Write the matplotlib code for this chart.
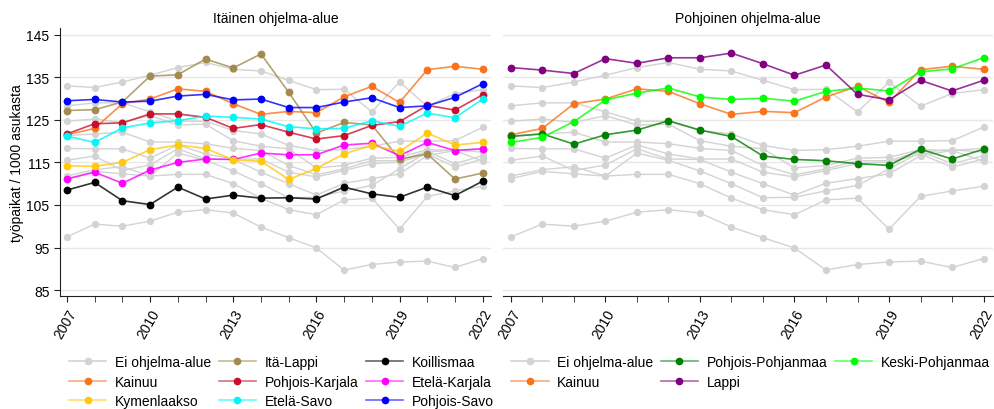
import matplotlib.pyplot as plt
from matplotlib.lines import Line2D
from matplotlib.colors import to_rgba

plt.rcParams['font.family'] = ['Liberation Sans', 'DejaVu Sans']

vuodet = [2007, 2008, 2009, 2010, 2011, 2012, 2013, 2014,
          2015, 2016, 2017, 2018, 2019, 2020, 2021, 2022]

# alueet, jotka eivät kuulu ohjelma-alueeseen (harmaat viivat)
ei_1 = [133.0, 132.6, 133.9, 135.5, 137.3, 138.5, 136.9, 136.5, 134.3, 132.1, 132.2, 126.9, 133.9, 128.2, 131.2, 132.1]
ei_2 = [128.3, 129.0, 129.0, 126.9, 124.7, 124.7, 122.5, 121.7, 119.0, 117.8, 118.0, 118.8, 120.0, 120.0, 120.1, 123.3]
ei_3 = [124.7, 125.2, 124.4, 126.0, 123.8, 124.0, 120.1, 118.8, 118.2, 113.7, 114.3, 116.0, 116.2, 118.0, 117.8, 118.3]
ei_4 = [121.3, 121.7, 122.1, 119.8, 119.8, 119.4, 118.3, 117.8, 114.3, 112.1, 113.5, 115.4, 115.4, 117.6, 114.7, 116.6]
ei_5 = [118.3, 118.2, 118.2, 116.0, 119.1, 117.0, 115.8, 115.8, 112.7, 111.6, 113.1, 114.7, 115.1, 117.0, 113.9, 115.8]
ei_6 = [115.5, 116.5, 113.1, 114.4, 118.2, 115.8, 115.7, 112.7, 110.0, 107.3, 110.1, 111.2, 112.3, 116.6, 117.8, 115.3]
ei_7 = [111.8, 113.3, 114.0, 111.8, 117.2, 115.5, 113.0, 110.0, 106.7, 106.8, 108.3, 109.6, 113.5, 117.4, 118.0, 117.4]
ei_8 = [111.2, 112.9, 112.3, 111.8, 112.2, 112.2, 110.0, 106.6, 103.9, 102.7, 106.2, 106.6, 99.3, 107.0, 108.3, 109.4]
ei_9 = [97.5, 100.5, 100.0, 101.2, 103.3, 103.9, 103.1, 99.8, 97.3, 94.9, 89.7, 91.0, 91.6, 91.8, 90.3, 92.4]

# itäinen ohjelma-alue
ita_lappi = [127.2, 127.4, 129.2, 135.3, 135.6, 139.3, 137.2, 140.5, 131.5, 121.9, 124.4, 123.8, 115.8, 117.0, 111.1, 112.5]
koillismaa = [108.5, 110.3, 106.0, 105.1, 109.2, 106.4, 107.3, 106.6, 106.7, 106.4, 109.2, 107.6, 106.8, 109.2, 107.2, 110.6]
kainuu = [121.5, 123.0, 128.8, 129.9, 132.3, 131.7, 128.8, 126.3, 127.0, 126.7, 130.4, 132.9, 129.1, 136.8, 137.6, 136.9]
pohjois_karjala = [121.7, 124.1, 124.3, 126.4, 126.4, 125.6, 123.0, 123.9, 122.1, 120.5, 121.3, 123.7, 124.6, 128.4, 127.3, 130.9]
etela_karjala = [111.1, 112.7, 110.1, 113.2, 115.0, 115.8, 115.7, 117.2, 116.8, 116.8, 119.1, 119.5, 116.6, 119.7, 117.8, 118.2]
kymenlaakso = [114.2, 114.1, 115.0, 118.0, 119.1, 118.3, 115.6, 115.3, 111.0, 113.6, 117.0, 119.0, 117.6, 121.9, 119.1, 119.7]
etela_savo = [121.2, 119.7, 123.1, 124.3, 124.8, 125.9, 125.6, 125.2, 123.4, 122.9, 123.0, 124.8, 123.5, 126.6, 125.5, 129.9]
pohjois_savo = [129.5, 129.8, 129.2, 129.4, 130.6, 131.0, 129.7, 129.9, 127.9, 127.9, 129.2, 130.2, 127.9, 128.3, 130.3, 133.5]

# pohjoinen ohjelma-alue
pohjois_pohjanmaa = [121.1, 121.7, 119.3, 121.5, 122.6, 124.8, 122.6, 121.1, 116.5, 115.7, 115.4, 114.7, 114.3, 118.1, 115.8, 118.1]
keski_pohjanmaa = [119.7, 120.9, 124.6, 129.7, 131.3, 132.5, 130.4, 129.8, 130.1, 129.4, 131.7, 132.5, 131.8, 136.3, 137.0, 139.6]
lappi = [137.3, 136.7, 135.9, 139.4, 138.3, 139.6, 139.6, 140.7, 138.2, 135.5, 137.9, 131.0, 129.7, 134.3, 131.8, 134.3]

harmaat = [ei_1, ei_2, ei_3, ei_4, ei_5, ei_6, ei_7, ei_8, ei_9]
HARMAA = '#D3D3D3'

itainen = [
    ('Itä-Lappi', ita_lappi, '#A38B4F'),
    ('Koillismaa', koillismaa, '#000000'),
    ('Kainuu', kainuu, '#F9731C'),
    ('Pohjois-Karjala', pohjois_karjala, '#C8102E'),
    ('Etelä-Karjala', etela_karjala, '#FF00FF'),
    ('Kymenlaakso', kymenlaakso, '#FFC90E'),
    ('Etelä-Savo', etela_savo, '#00F5F5'),
    ('Pohjois-Savo', pohjois_savo, '#0000FF'),
]
pohjoinen = [
    ('Kainuu', kainuu, '#F9731C'),
    ('Pohjois-Pohjanmaa', pohjois_pohjanmaa, '#008000'),
    ('Keski-Pohjanmaa', keski_pohjanmaa, '#00FF00'),
    ('Lappi', lappi, '#800080'),
]

W, H = 995, 410
fig = plt.figure(figsize=(W / 100, H / 100), dpi=100)


def box(l, t, r, b):
    return [l / W, 1 - b / H, (r - l) / W, (b - t) / H]


def kahva(c, grey=False):
    return Line2D([], [], color=to_rgba(c, 1.0 if grey else 0.6), lw=1.2,
                  marker='o', ms=4.5, mfc=c, mec=c)


def piirra(ax, sarjat, otsikko):
    for s in harmaat:
        ax.plot(vuodet, s, color=HARMAA, lw=1.0, marker='o', ms=4.2, zorder=2)
    for nimi, s, c in sarjat:
        ax.plot(vuodet, s, color=to_rgba(c, 0.8), lw=1.2, marker='o', ms=4.6,
                mfc=c, mec=c, zorder=3)
    ax.set_xlim(2006.75, 2022.3)
    ax.set_ylim(83.6, 146.6)
    ax.set_yticks([85, 95, 105, 115, 125, 135, 145])
    ax.set_xticks([2007, 2010, 2013, 2016, 2019, 2022])
    ax.set_xticks(vuodet, minor=True)
    ax.grid(axis='y', color='#E8E8E8', lw=1.0)
    ax.set_axisbelow(True)
    for sp in ['top', 'right']:
        ax.spines[sp].set_visible(False)
    ax.spines['bottom'].set_color('#222222')
    ax.spines['left'].set_color('#222222')
    ax.tick_params(axis='both', which='both', length=4, color='#222222',
                   labelsize=10)
    for lab in ax.get_xticklabels():
        lab.set_rotation(60)
        lab.set_ha('right')
        lab.set_rotation_mode('anchor')
    ax.set_title(otsikko, fontsize=10, pad=4)


ax1 = fig.add_axes(box(60, 29, 491, 297))
ax2 = fig.add_axes(box(503, 29, 993, 297))
piirra(ax1, itainen, 'Itäinen ohjelma-alue')
piirra(ax2, pohjoinen, 'Pohjoinen ohjelma-alue')

ax1.set_ylabel('työpaikat / 1000 asukasta', fontsize=10)
ax1.yaxis.set_label_coords(-0.083, 0.5)
ax2.spines['left'].set_visible(False)
ax2.tick_params(axis='y', left=False, labelleft=False)

# selitteet: matplotlib täyttää sarakkeittain
jarj1 = [('Ei ohjelma-alue', HARMAA)] + [(n, c) for n, s, c in itainen]
jarj1 = [jarj1[i] for i in [0, 3, 6, 1, 4, 7, 2, 5, 8]]
fig.legend([kahva(c, c == HARMAA) for n, c in jarj1], [n for n, c in jarj1],
           loc='upper left', bbox_to_anchor=(69 / W, 1 - 356 / H), ncol=3,
           frameon=False, fontsize=10, handlelength=2.7, handletextpad=0.6,
           columnspacing=0.55, labelspacing=0.4, borderpad=0, borderaxespad=0)

jarj2 = [('Ei ohjelma-alue', HARMAA)] + [(n, c) for n, s, c in pohjoinen]
jarj2 = [jarj2[i] for i in [0, 1, 2, 4, 3]]
fig.legend([kahva(c, c == HARMAA) for n, c in jarj2], [n for n, c in jarj2],
           loc='upper left', bbox_to_anchor=(511 / W, 1 - 356 / H), ncol=3,
           frameon=False, fontsize=10, handlelength=2.7, handletextpad=0.6,
           columnspacing=0.55, labelspacing=0.4, borderpad=0, borderaxespad=0)

fig.savefig('out.png', dpi=100)
